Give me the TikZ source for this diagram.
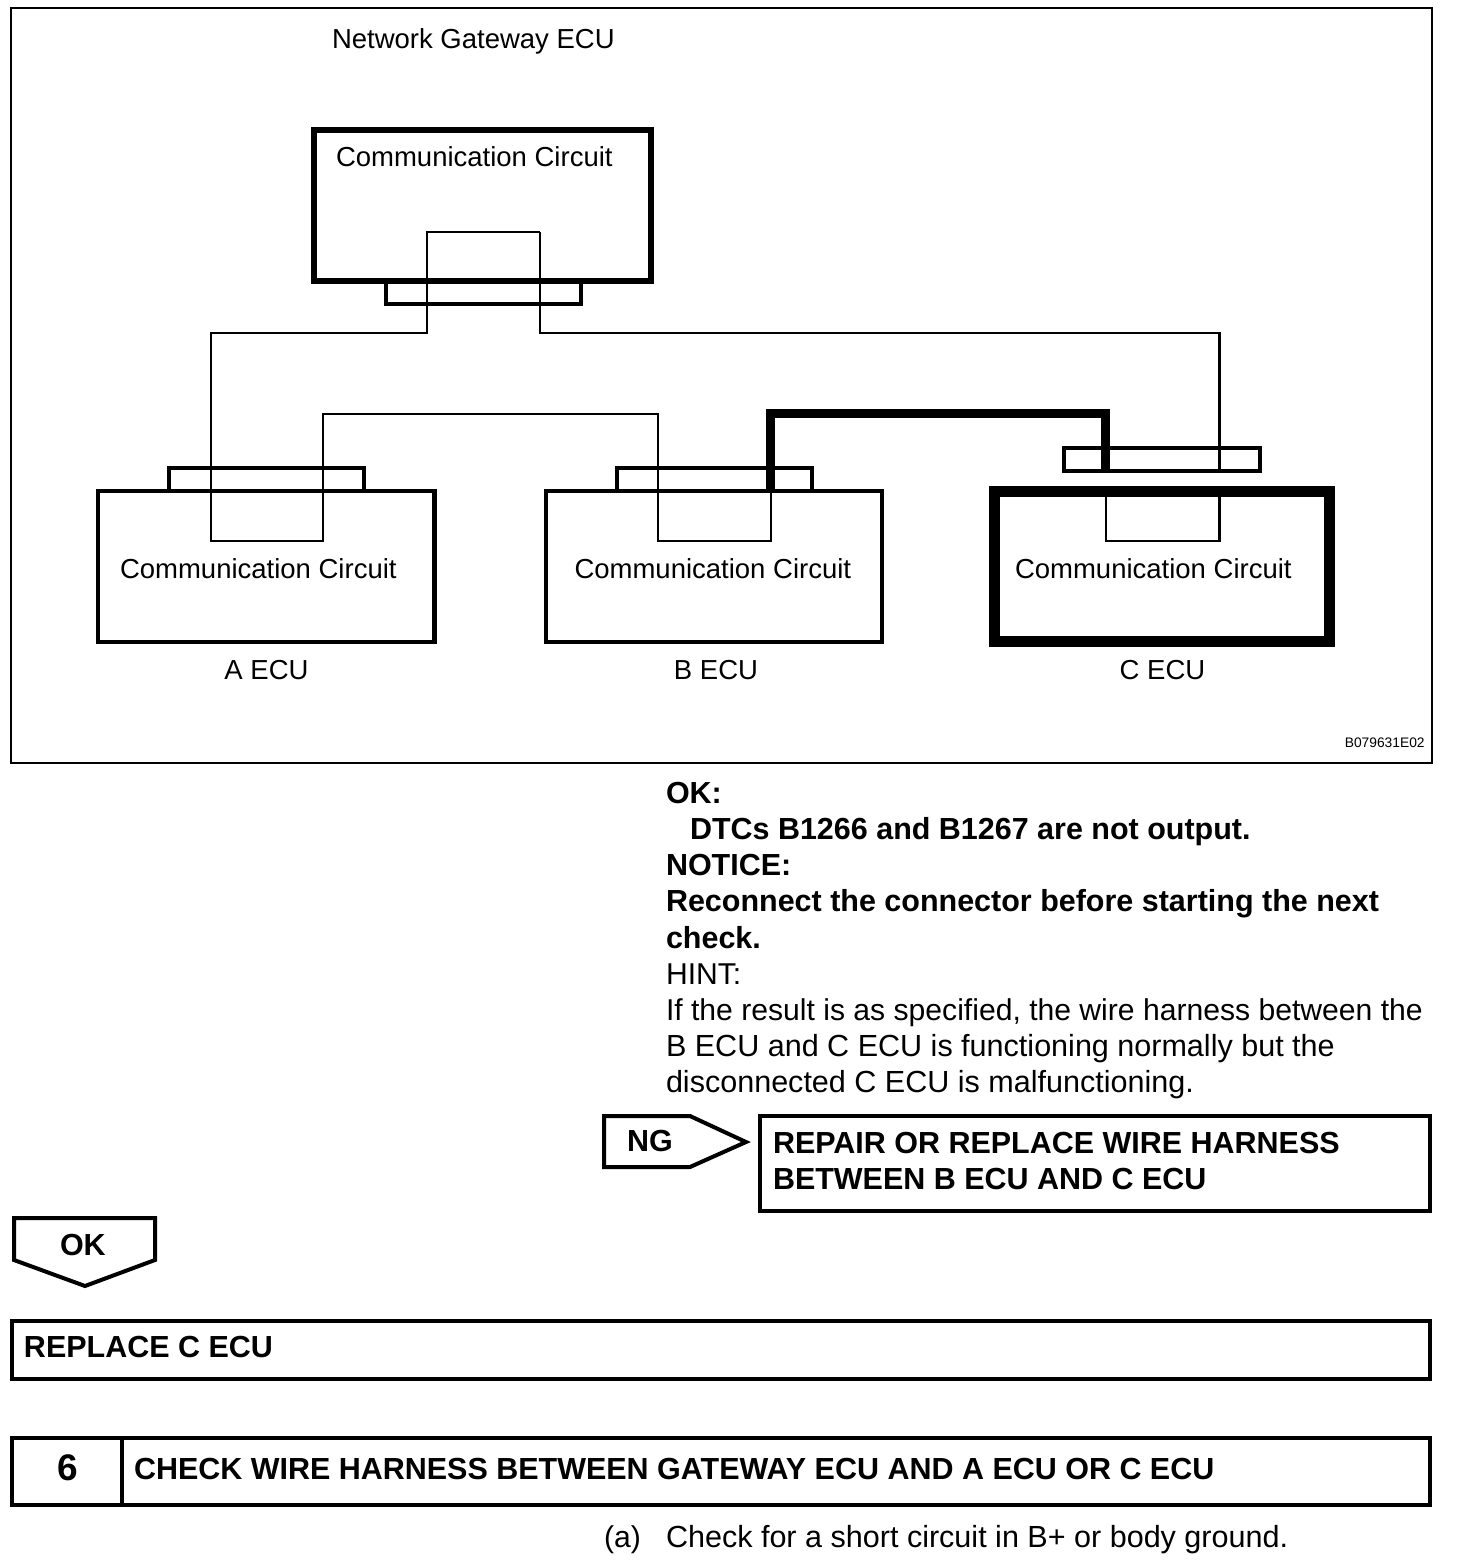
\documentclass[tikz,border=0pt]{standalone}
\usepackage{fontspec}
\setmainfont{Liberation Sans}
\newcommand{\diagfont}{\fontsize{13.75}{18}\selectfont}
\newcommand{\bodyfont}{\fontsize{15.06}{18}\selectfont}
\newcommand{\bodywide}{\fontsize{15.27}{18}\selectfont}
\newcommand{\boldfont}{\fontsize{15.24}{18}\selectfont\bfseries}
\tikzset{
  x=0.5pt,y=-0.5pt,
  px/.style={line width=#1*0.5pt},
  label/.style={inner sep=0pt,outer sep=0pt,anchor=base west,font=\bodyfont},
  widelabel/.style={inner sep=0pt,outer sep=0pt,anchor=base west,font=\bodywide},
  dlabel/.style={inner sep=0pt,outer sep=0pt,anchor=base west,font=\diagfont},
  blabel/.style={inner sep=0pt,outer sep=0pt,anchor=base west,font=\boldfont},
  clabel/.style={inner sep=0pt,outer sep=0pt,anchor=base,font=\diagfont},
  wire/.style={px=2.6,line join=miter},
  hotwire/.style={px=8.8,line join=miter},
  ecubox/.style={px=4.6},
  conbox/.style={px=4},
  framebox/.style={px=2.4},
  stepbox/.style={px=4},
}
\begin{document}
\begin{tikzpicture}
\useasboundingbox (0,0) rectangle (1456,1566);
% frame
\draw[framebox] (11,8) rectangle (1432,763);
\node[dlabel] (title) at (332,49) {Network Gateway ECU};
% boxes
\draw[px=5.2] (314,130) rectangle (651,281);
\draw[conbox] (386,281) -- (386,304) -- (581,304) -- (581,281);
\draw[ecubox] (98,491) rectangle (434.5,642);
\draw[conbox] (169,491) -- (169,468) -- (364,468) -- (364,491);
\draw[ecubox] (546,491) rectangle (882,642);
\draw[conbox] (617,491) -- (617,468) -- (812,468) -- (812,491);
\draw[px=11] (994.5,491.5) rectangle (1329.5,641.5);
\draw[conbox] (1064,448) rectangle (1260,471);
% wire coordinates
\coordinate (gl) at (427,232);
\coordinate (gr) at (540,232);
\coordinate (gl2) at (427,333);
\coordinate (gr2) at (540,333);
\coordinate (al) at (211,541);
\coordinate (ar) at (323,541);
\coordinate (bl) at (658,541);
\coordinate (br) at (771,541);
\coordinate (cl) at (1106,541);
\coordinate (cr) at (1219.5,541);
\coordinate (cli) at (1106,492);
\coordinate (cri) at (1219.5,492);
\coordinate (cro) at (1219.5,471);
\coordinate (bt) at (770.5,491);
\coordinate (ct) at (1105.5,471);
\draw[wire] (gr) -- (gl) -- (gl2) -| (al) -- (ar) |- (658,414) -- (bl) -- (br) -- (771,491);
\draw[wire] (cli) -- (cl) -- (cr) -- (cri);
\draw[wire] (cro) |- (gr2) -- (gr);
\draw[hotwire] (bt) |- (1105.5,413.5) -- (ct);
% labels
\node[dlabel] (cg) at (336,167) {Communication Circuit};
\node[dlabel] (ca) at (120,578.5) {Communication Circuit};
\node[dlabel] (cb) at (574.5,578.5) {Communication Circuit};
\node[dlabel] (cc) at (1015,578.5) {Communication Circuit};
\node[clabel] (la) at (266.5,679.5) {A ECU};
\node[clabel] (lb) at (716,679.5) {B ECU};
\node[clabel] (lc) at (1162.5,679.5) {C ECU};
\node[inner sep=0pt,anchor=base east,font=\fontsize{6.9}{8}\selectfont] (code) at (1425,747) {B079631E02};
% text
\node[blabel] (t1) at (666,803) {OK:};
\node[blabel] (t2) at (690,839) {DTCs B1266 and B1267 are not output.};
\node[blabel] (t3) at (666,875) {NOTICE:};
\node[blabel] (t4) at (666,911.5) {Reconnect the connector before starting the next};
\node[blabel] (t5) at (666,948) {check.};
\node[label] (t6) at (666,984) {HINT:};
\node[label] (t7) at (666,1020) {If the result is as specified, the wire harness between the};
\node[widelabel] (t8) at (666,1056) {B ECU and C ECU is functioning normally but the};
\node[widelabel] (t9) at (666,1092) {disconnected C ECU is malfunctioning.};
% NG
\draw[stepbox,line join=miter] (604,1116) -- (690,1116) -- (746,1142) -- (690,1167) -- (604,1167) -- cycle;
\node[blabel] (ng) at (627,1151) {NG};
\draw[stepbox] (760,1116) rectangle (1430,1211);
\node[blabel] (r1) at (773,1153) {REPAIR OR REPLACE WIRE HARNESS};
\node[blabel] (r2) at (773,1189) {BETWEEN B ECU AND C ECU};
% OK
\draw[stepbox,line join=miter] (14,1218) -- (155,1218) -- (155,1260) -- (85,1286) -- (14,1260) -- cycle;
\node[blabel] (ok) at (60,1255) {OK};
% replace
\draw[stepbox] (12,1321) rectangle (1430,1379);
\node[blabel] (rc) at (24,1357.5) {REPLACE C ECU};
% step 6
\draw[stepbox] (12,1438) rectangle (1430,1504.5);
\draw[stepbox] (122,1438) -- (122,1504.5);
\node[inner sep=0pt,anchor=base,font=\fontsize{18.5}{20}\selectfont\bfseries] (six) at (68,1480) {6};
\node[blabel] (chk) at (134,1479) {CHECK WIRE HARNESS BETWEEN GATEWAY ECU AND A ECU OR C ECU};
\node[label] (a) at (604,1547) {(a)};
\node[widelabel] (ab) at (666,1547) {Check for a short circuit in B+ or body ground.};
\end{tikzpicture}
\end{document}
